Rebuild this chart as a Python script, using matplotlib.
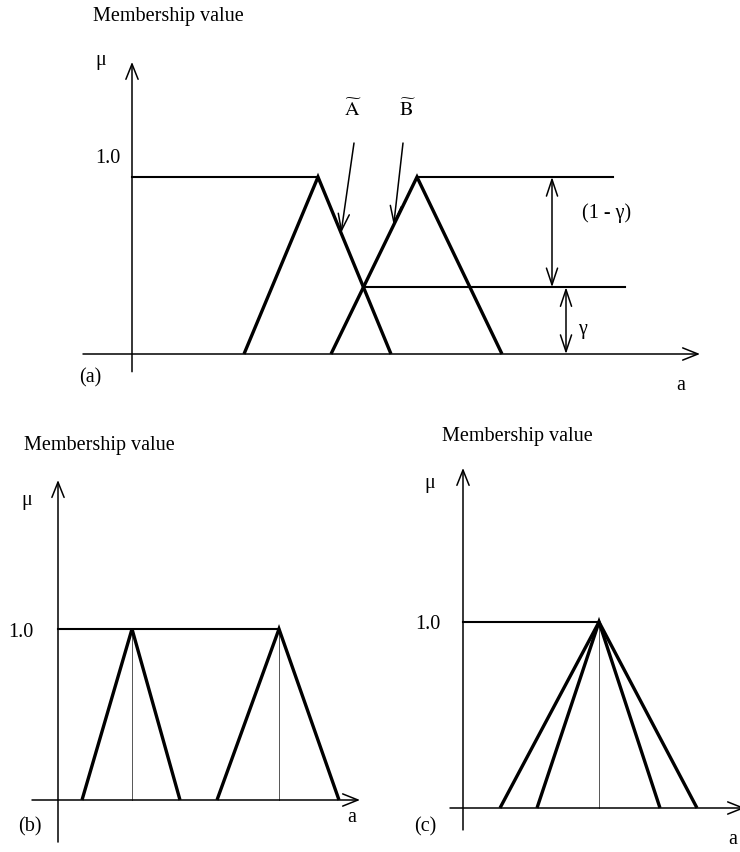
import matplotlib
matplotlib.use("Agg")
import matplotlib.pyplot as plt
import numpy as np

plt.rcParams['font.family'] = ['Liberation Serif', 'DejaVu Serif']
plt.rcParams['mathtext.fontset'] = 'stix'

# ---------------- data (a-values and membership grades) ----------------
# panel (a): two triangular fuzzy numbers (left foot, peak, right foot)
tri_A = [5.6, 9.3, 12.95]
tri_B = [9.95, 14.25, 18.5]
mu_levels = [0.0, 1.0, 0.0]
# panel (b): two narrow/wide triangular numbers
tri_b1 = [1.2, 3.7, 6.1]
tri_b2 = [7.95, 11.05, 14.05]
# panel (c): two triangles sharing the same peak
tri_c_outer = [1.85, 6.8, 11.7]
tri_c_inner = [3.7, 6.8, 9.85]

W, H = 740, 852
fig = plt.figure(figsize=(W / 100, H / 100), dpi=100)

TRI_LW = 2.4
AX_LW = 1.1
FS = 14.5


def make_axes(box, origin, px_unit_x, px_unit_y):
    """box = (left, top, right, bottom) pixels; origin = pixel of (a=0, mu=0)."""
    l, t, r, b = box
    ax = fig.add_axes([l / W, 1 - b / H, (r - l) / W, (b - t) / H])
    ox, oy = origin
    ax.set_xlim((l - ox) / px_unit_x, (r - ox) / px_unit_x)
    ax.set_ylim((oy - b) / px_unit_y, (oy - t) / px_unit_y)
    ax.axis('off')
    return ax


def arrow(ax, start, end, style='->', lw=AX_LW, ms=20):
    ax.annotate('', xy=end, xytext=start,
                arrowprops=dict(arrowstyle=style, lw=lw, color='black',
                                shrinkA=0, shrinkB=0, mutation_scale=ms),
                annotation_clip=False)


def draw_axes(ax, xr, yr):
    arrow(ax, (xr[0], 0), (xr[1], 0), style='->, head_length=0.55, head_width=0.22')
    arrow(ax, (0, yr[0]), (0, yr[1]), style='->, head_length=0.55, head_width=0.22')


def tri(ax, t):
    ax.plot(t, mu_levels, color='black', lw=TRI_LW, solid_joinstyle='miter',
            solid_capstyle='butt', clip_on=False)


# ---------------- panel (a) ----------------
axa = make_axes((75, 0, 720, 400), (132, 354), 20, 177)
draw_axes(axa, (-2.45, 28.4), (-0.10, 1.65))
tri(axa, tri_A)
tri(axa, tri_B)
# intersection of A's right edge and B's left edge
sA = (0 - 1) / (tri_A[2] - tri_A[1])
sB = (1 - 0) / (tri_B[1] - tri_B[0])
xi = (sA * tri_A[1] - sB * tri_B[0] - 1) / (sA - sB)
gamma = sB * (xi - tri_B[0])
axa.plot([0, tri_A[1]], [1, 1], color='black', lw=1.5)
axa.plot([tri_B[1], 24.05], [1, 1], color='black', lw=1.5)
axa.plot([xi, 24.65], [gamma, gamma], color='black', lw=1.5)
arrow(axa, (21.0, gamma), (21.0, 1.0), style='<->, head_length=0.6, head_width=0.2')
arrow(axa, (21.7, 0.0), (21.7, gamma), style='<->, head_length=0.6, head_width=0.2')
# pointers to A and B
muA = 0.684
arrow(axa, (11.1, 1.192), (tri_A[1] + (1 - muA) * (tri_A[2] - tri_A[1]), muA),
      style='->, head_length=0.6, head_width=0.2', lw=1.1)
muB = 0.729
arrow(axa, (13.55, 1.192), (tri_B[0] + muB * (tri_B[1] - tri_B[0]), muB),
      style='->, head_length=0.6, head_width=0.2', lw=1.1)
axa.text(11.05, 1.378, r'$\widetilde{\mathrm{A}}$', fontsize=FS, ha='center', va='center')
axa.text(13.75, 1.378, r'$\widetilde{\mathrm{B}}$', fontsize=FS, ha='center', va='center')
axa.text(23.75, 0.797, '(1 - γ)', fontsize=FS, ha='center', va='center')
axa.text(22.5, 0.136, 'γ', fontsize=FS, ha='center', va='center')
axa.text(-1.95, 1.904, 'Membership value', fontsize=FS, ha='left', va='center')
axa.text(-1.55, 1.66, 'μ', fontsize=FS, ha='center', va='center')
axa.text(-0.6, 1.107, '1.0', fontsize=FS, ha='right', va='center')
axa.text(-2.1, -0.136, '(a)', fontsize=FS, ha='center', va='center')
axa.text(27.45, -0.18, 'a', fontsize=FS, ha='center', va='center')

# ---------------- panel (b) ----------------
axb = make_axes((0, 420, 370, 852), (58, 800), 20, 171)
draw_axes(axb, (-1.3, 15.1), (-0.246, 1.871))
axb.plot([0, tri_b2[1]], [1, 1], color='black', lw=1.5)
for t in (tri_b1, tri_b2):
    axb.plot([t[1], t[1]], [0, 1], color='#555555', lw=0.7)
    tri(axb, t)
axb.text(-1.7, 2.076, 'Membership value', fontsize=FS, ha='left', va='center')
axb.text(-1.55, 1.749, 'μ', fontsize=FS, ha='center', va='center')
axb.text(-1.25, 0.982, '1.0', fontsize=FS, ha='right', va='center')
axb.text(-1.4, -0.158, '(b)', fontsize=FS, ha='center', va='center')
axb.text(14.7, -0.105, 'a', fontsize=FS, ha='center', va='center')

# ---------------- panel (c) ----------------
axc = make_axes((400, 420, 740, 852), (463, 808), 20, 186)
draw_axes(axc, (-0.65, 14.1), (-0.118, 1.828))
axc.plot([0, tri_c_outer[1]], [1, 1], color='black', lw=1.5)
axc.plot([tri_c_outer[1], tri_c_outer[1]], [0, 1], color='#555555', lw=0.7)
tri(axc, tri_c_outer)
tri(axc, tri_c_inner)
axc.text(-1.05, 1.995, 'Membership value', fontsize=FS, ha='left', va='center')
axc.text(-1.65, 1.747, 'μ', fontsize=FS, ha='center', va='center')
axc.text(-1.15, 0.984, '1.0', fontsize=FS, ha='right', va='center')
axc.text(-1.9, -0.102, '(c)', fontsize=FS, ha='center', va='center')
axc.text(13.7, -0.17, 'a', fontsize=FS, ha='right', va='center')

fig.savefig('out.png', dpi=100, facecolor='white')
